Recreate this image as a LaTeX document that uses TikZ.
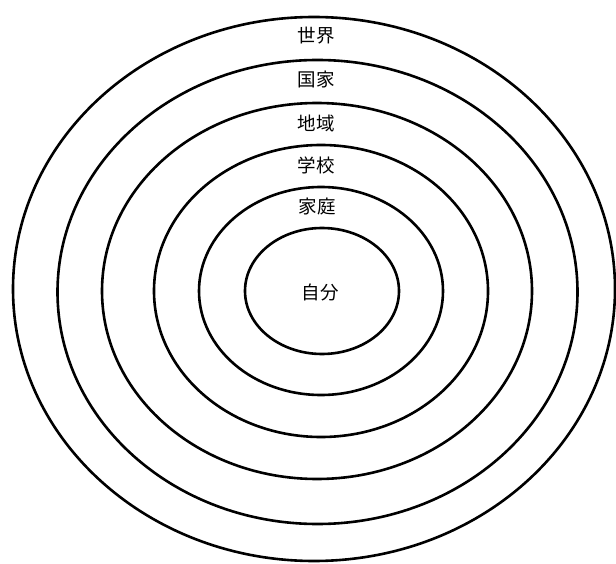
\documentclass[tikz,border=0pt]{standalone}
\usepackage{fontspec}
\usepackage{tikz}
\newfontfamily\jpfont{Noto Sans CJK JP}
\tikzset{ring/.style={draw=black,line width=2.6pt},
  lab/.style={font=\jpfont\fontsize{18.5}{20}\selectfont,inner sep=0pt}}

\begin{document}
\begin{tikzpicture}[x=1pt,y=-1pt]
\useasboundingbox (0,0) rectangle (616,564);
\fill[white] (0,0) rectangle (616,564);
\draw[ring] (314,289) ellipse [x radius=301,y radius=272];
\draw[ring] (317.5,292) ellipse [x radius=260,y radius=232];
\draw[ring] (317,291) ellipse [x radius=215,y radius=188];
\draw[ring] (321,291) ellipse [x radius=167,y radius=146];
\draw[ring] (321,291) ellipse [x radius=122,y radius=104];
\draw[ring] (322,291) ellipse [x radius=77,y radius=63];
\node[lab] (world) at (316,36) {世界};
\node[lab] (nation) at (316,80) {国家};
\node[lab] (region) at (316,123) {地域};
\node[lab] (school) at (316,165) {学校};
\node[lab] (home) at (317,207) {家庭};
\node[lab] (self) at (320,292) {自分};
\end{tikzpicture}
\end{document}
